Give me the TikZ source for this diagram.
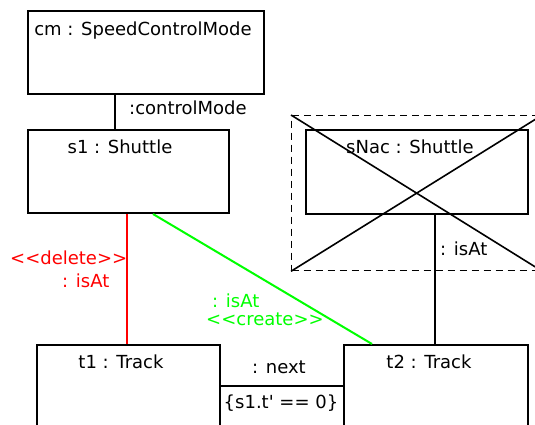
\documentclass[tikz,border=0pt]{standalone}
\usepackage{fontspec}
\setmainfont{DejaVu Sans}
\begin{document}
\begin{tikzpicture}[x={(1pt,0pt)}, y={(0pt,-1pt)},
  obj/.style={draw, line width=2pt, anchor=north west, inner sep=0pt},
  lbl/.style={inner sep=0pt, font=\fontsize{18}{21}\selectfont},
  link/.style={line width=2pt},
  gone/.style={draw, dashed, dash pattern=on 7pt off 5pt, line width=1.3pt, anchor=north west, inner sep=0pt}]
\useasboundingbox (0,0) rectangle (535,425);
\clip (0,0) rectangle (535,425);

% object boxes
\node[obj, minimum width=236pt, minimum height=83pt] (cm) at (27,10) {};
\node[obj, minimum width=201pt, minimum height=83pt] (s1) at (27,129) {};
\node[obj, minimum width=222pt, minimum height=84pt] (sNac) at (305,129) {};
\node[obj, minimum width=183pt, minimum height=120pt] (t1) at (36,344) {};
\node[obj, minimum width=184pt, minimum height=120pt] (t2) at (343,344) {};

% object titles
\node[lbl] (cmT) at (143,31) {cm : SpeedControlMode};
\node[lbl] (s1T) at (120,147) {s1 : Shuttle};
\node[lbl] (sNacT) at (410,147) {sNac : Shuttle};
\node[lbl] (t1T) at (121,362) {t1 : Track};
\node[lbl] (t2T) at (429,362) {t2 : Track};

% crossed-out region around sNac
\node[gone, minimum width=250pt, minimum height=155pt] (del) at (291,115) {};
\draw[link, line width=1.6pt] (del.north west) -- (del.south east);
\draw[link, line width=1.6pt] (del.south west) -- (del.north east);

% links
\coordinate (cmx) at (115,0);
\draw[link] (cm.south -| cmx) -- (s1.north -| cmx);
\node[lbl, anchor=west] (cmL) at (129,108) {:controlMode};

\coordinate (rx) at (127,0);
\draw[link, red] (s1.south -| rx) -- (t1.north -| rx);
\node[lbl, anchor=west, text=red] (delL) at (10,258) {<\kern0pt<delete>\kern0pt>};
\node[lbl, anchor=west, text=red] (delA) at (62,281) {: isAt};

\coordinate (gx1) at (153,0);
\coordinate (gx2) at (372,0);
\draw[link, green] (s1.south -| gx1) -- (t2.north -| gx2);
\node[lbl, anchor=west, text=green] (crA) at (212,301) {: isAt};
\node[lbl, anchor=west, text=green] (crL) at (206,319) {<\kern0pt<create>\kern0pt>};

\coordinate (bx) at (435,0);
\draw[link] (sNac.south -| bx) -- (t2.north -| bx);
\node[lbl, anchor=west] (isA) at (440,249) {: isAt};

\coordinate (ny) at (0,386);
\draw[link] (t1.east |- ny) -- (t2.west |- ny);
\node[lbl] (nxL) at (279,367) {: next};
\node[lbl] (nxC) at (281,403) {\{s1.t\textquotesingle{} == 0\}};
\end{tikzpicture}
\end{document}
